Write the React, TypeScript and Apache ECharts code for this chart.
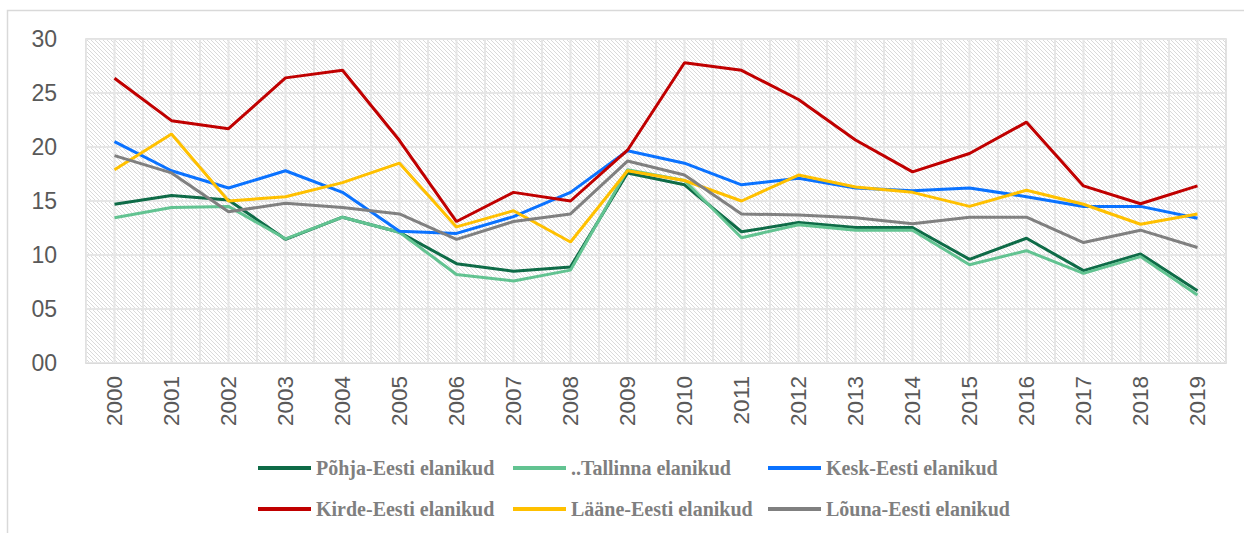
import React, { useEffect, useRef } from "react";
import * as echarts from "echarts";

const years = ["2000","2001","2002","2003","2004","2005","2006","2007","2008","2009","2010","2011","2012","2013","2014","2015","2016","2017","2018","2019"];
const pohja = [14.7, 15.5, 15.1, 11.45, 13.5, 12.1, 9.2, 8.5, 8.9, 17.6, 16.5, 12.15, 13.0, 12.55, 12.55, 9.6, 11.55, 8.55, 10.1, 6.7];
const tallinn = [13.45, 14.4, 14.5, 11.5, 13.5, 12.1, 8.2, 7.6, 8.6, 17.9, 16.9, 11.6, 12.8, 12.3, 12.3, 9.1, 10.4, 8.3, 9.85, 6.3];
const kesk = [20.5, 17.8, 16.2, 17.8, 15.8, 12.2, 12.0, 13.55, 15.8, 19.66, 18.5, 16.5, 17.1, 16.2, 15.95, 16.2, 15.4, 14.5, 14.5, 13.4];
const kirde = [26.36, 22.44, 21.7, 26.4, 27.1, 20.6, 13.1, 15.8, 15.0, 19.7, 27.8, 27.1, 24.4, 20.65, 17.7, 19.4, 22.3, 16.4, 14.75, 16.4];
const laane = [17.9, 21.2, 15.0, 15.4, 16.7, 18.5, 12.6, 14.1, 11.2, 17.8, 16.9, 15.0, 17.4, 16.3, 15.8, 14.5, 16.0, 14.7, 12.85, 13.8];
const louna = [19.2, 17.6, 14.0, 14.8, 14.4, 13.8, 11.45, 13.1, 13.8, 18.7, 17.4, 13.8, 13.7, 13.45, 12.9, 13.5, 13.5, 11.15, 12.3, 10.7];

const seriesNames = [
  "Põhja-Eesti elanikud",
  "..Tallinna elanikud",
  "Kesk-Eesti elanikud",
  "Kirde-Eesti elanikud",
  "Lääne-Eesti elanikud",
  "Lõuna-Eesti elanikud",
];
const seriesData = [pohja, tallinn, kesk, kirde, laane, louna];
const seriesColors = ["#0E6B47", "#62C391", "#0A72FF", "#C00000", "#FFC000", "#808080"];
const yTickValues = [0, 5, 10, 15, 20, 25, 30];
const yTickLabels = ["00", "05", "10", "15", "20", "25", "30"];

export default function App() {
  const ref = useRef<HTMLDivElement>(null);
  useEffect(() => {
    if (!ref.current) return;
    const chart = echarts.init(ref.current, null, { renderer: "svg" });
    const legendLefts = [258, 513, 768];
    const legendTops = [458, 499];
    const legends = seriesNames.map((name, i) => ({
      data: [name],
      left: legendLefts[i % 3],
      top: legendTops[Math.floor(i / 3)],
      padding: 0,
      icon: "rect",
      itemWidth: 53,
      itemHeight: 4,
      textStyle: {
        fontFamily: '"Liberation Serif", serif',
        fontWeight: "bold",
        fontSize: 20,
        color: "#7f7f7f",
      },
    }));

    const gridColor = "#e6e6e6";
    // background: diagonal hatch + gridlines, drawn beneath the data lines
    const backgroundSeries = {
      type: "custom",
      name: "__background",
      xAxisIndex: 0,
      yAxisIndex: 0,
      z: 1,
      silent: true,
      clip: true,
      data: [[0, 0]],
      renderItem: (params: any, api: any) => {
        const cs = params.coordSys;
        const x0 = cs.x, y0 = cs.y, x1 = cs.x + cs.width, y1 = cs.y + cs.height;
        const step = 4;
        const children: any[] = [];
        for (let c = x0 - y1; c <= x1 - y0; c += step) {
          const xa = Math.max(x0, y0 + c);
          const xb = Math.min(x1, y1 + c);
          if (xb <= xa) continue;
          children.push({
            type: "line",
            shape: { x1: xa, y1: xa - c, x2: xb, y2: xb - c },
            style: { stroke: "#dadada", lineWidth: 1 },
          });
        }
        yTickValues.forEach((v) => {
          const p = api.coord([0, v]);
          children.push({
            type: "line",
            shape: { x1: x0, y1: p[1], x2: x1, y2: p[1] },
            style: { stroke: gridColor, lineWidth: 2 },
          });
        });
        const band = api.size([1, 0])[0];
        years.forEach((_, i) => {
          const cx = api.coord([i, 0])[0];
          [cx - band / 2, cx].forEach((x) => {
            children.push({
              type: "line",
              shape: { x1: x, y1: y0, x2: x, y2: y1 },
              style: { stroke: gridColor, lineWidth: 2 },
            });
          });
        });
        return { type: "group", children };
      },
    };

    chart.setOption({
      animation: false,
      graphic: [
        {
          type: "rect",
          shape: { x: 7.5, y: 10.5, width: 1300, height: 600 },
          style: { fill: "none", stroke: "#d9d9d9", lineWidth: 1.5 },
          silent: true,
        },
      ],
      legend: legends,
      grid: {
        left: 86,
        right: 18,
        top: 39,
        bottom: 170,
        show: true,
        backgroundColor: "#ffffff",
        borderColor: "#d9d9d9",
        borderWidth: 1.5,
      },
      xAxis: {
        type: "category",
        data: years,
        boundaryGap: true,
        axisLine: { show: true, lineStyle: { color: "#d9d9d9", width: 1.5 } },
        axisTick: { show: false },
        splitLine: { show: false },
        axisLabel: {
          rotate: 90,
          margin: 13,
          fontSize: 22.5,
          color: "#595959",
          fontFamily: '"Liberation Sans", Arial, sans-serif',
          interval: 0,
        },
      },
      yAxis: {
        type: "value",
        min: 0,
        max: 30,
        interval: 5,
        axisLine: { show: false },
        axisTick: { show: false },
        splitLine: { show: false },
        axisLabel: {
          margin: 29,
          fontSize: 23,
          color: "#595959",
          fontFamily: '"Liberation Sans", Arial, sans-serif',
          formatter: (v: number) => yTickLabels[yTickValues.indexOf(v)] ?? String(v),
        },
      },
      series: [
        backgroundSeries,
        ...seriesNames.map((name, i) => ({
          name,
          type: "line",
          z: 3,
          data: seriesData[i],
          symbol: "none",
          color: seriesColors[i],
          lineStyle: { width: 3, color: seriesColors[i] },
        })),
      ],
    });
    return () => chart.dispose();
  }, []);
  return (
    <div
      ref={ref}
      style={{ position: "absolute", left: 0, top: 0, width: 1244, height: 533 }}
    />
  );
}
